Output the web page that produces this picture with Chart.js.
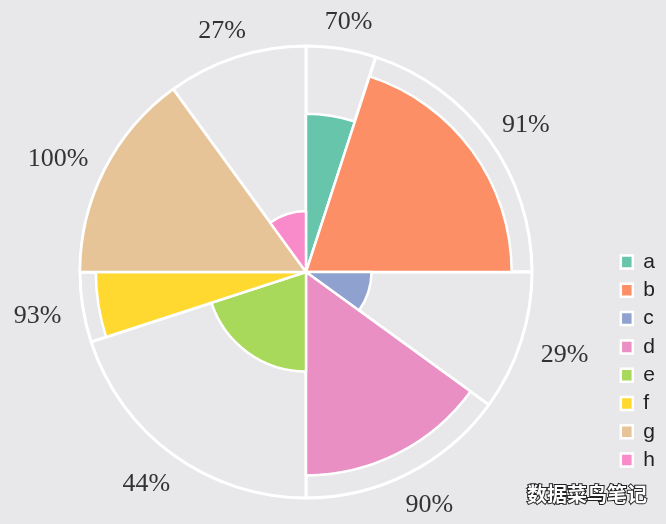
<!DOCTYPE html>
<html>
<head>
<meta charset="utf-8">
<script src="https://cdn.jsdelivr.net/npm/chart.js@4"></script>
<style>
  html, body { margin: 0; padding: 0; background: #e8e8ea; }
  #wrap { width: 666px; height: 524px; }
</style>
</head>
<body>
<div id="wrap"><canvas id="chart" width="666" height="524"></canvas></div>
<script>
const categories = ["a", "b", "c", "d", "e", "f", "g", "h"];
const values = [70, 91, 29, 90, 44, 93, 100, 27];
const widths = [18, 72, 36, 54, 72, 18, 54, 36]; // sector angle in degrees
const maxValue = 100;
const colors = ["#66c5aa", "#fc8f66", "#8fa2cf", "#e98fc4", "#a8d95a", "#ffd92f", "#e6c498", "#f98bcb"];

// percent labels outside each coloured sector
const outerLabels = {
  id: "outerLabels",
  afterDatasetsDraw(chart) {
    const ctx = chart.ctx;
    const meta = chart.getDatasetMeta(0);
    const scale = chart.scales.r;
    const R = scale.drawingArea + 22;
    ctx.save();
    ctx.font = "26px 'Liberation Serif', 'Times New Roman', serif";
    ctx.fillStyle = "#333";
    ctx.textAlign = "center";
    ctx.textBaseline = "middle";
    meta.data.forEach((arc, i) => {
      const mid = (arc.startAngle + arc.endAngle) / 2;
      const text = values[i] + "%";
      const w = ctx.measureText(text).width;
      const h = 18;
      const px = arc.x + Math.cos(mid) * R;
      const py = arc.y + Math.sin(mid) * R;
      ctx.fillText(text, px + Math.cos(mid) * w / 2, py + Math.sin(mid) * h / 2 + 4);
    });
    ctx.restore();
  }
};

const watermark = {
  id: "watermark",
  afterDraw(chart) {
    const ctx = chart.ctx;
    ctx.save();
    ctx.font = "bold 20px 'Noto Sans CJK SC'";
    ctx.textAlign = "left";
    ctx.textBaseline = "middle";
    ctx.lineWidth = 2;
    ctx.strokeStyle = "#222";
    ctx.strokeText("数据菜鸟笔记", 527, 494);
    ctx.fillStyle = "#fff";
    ctx.fillText("数据菜鸟笔记", 527, 494);
    ctx.restore();
  }
};

new Chart(document.getElementById("chart"), {
  type: "polarArea",
  data: {
    labels: categories,
    datasets: [
      {
        label: "value",
        data: values,
        angle: widths,
        backgroundColor: colors,
        borderColor: "#ffffff",
        borderWidth: 2.5
      },
      {
        label: "full",
        data: values.map(() => maxValue),
        angle: widths,
        backgroundColor: "#e8e8ea",
        borderColor: "#ffffff",
        borderWidth: 3
      }
    ]
  },
  options: {
    responsive: false,
    animation: false,
    layout: { padding: { top: 46, bottom: 26, left: 0, right: 1 } },
    scales: {
      r: {
        min: 0,
        max: maxValue,
        ticks: { display: false },
        grid: { display: false },
        angleLines: { display: false },
        pointLabels: { display: false }
      }
    },
    plugins: {
      tooltip: { enabled: false },
      legend: {
        position: "right",
        align: "start",
        title: { display: true, text: "", padding: { top: 183.8, bottom: 0 } },
        labels: {
          boxWidth: 12,
          boxHeight: 13,
          padding: 7.3,
          color: "#222",
          font: { family: "'Liberation Sans', Arial, sans-serif", size: 21 }
        }
      }
    }
  },
  plugins: [outerLabels, watermark]
});
</script>
</body>
</html>
